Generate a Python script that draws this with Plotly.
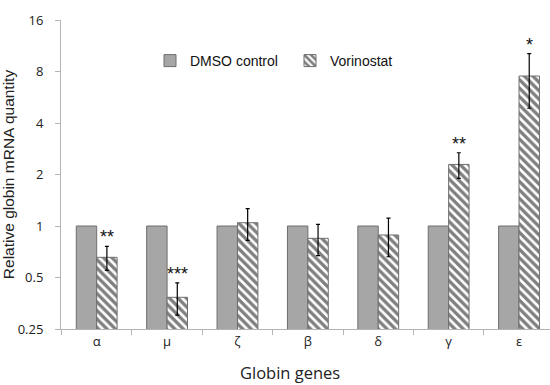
import math
import plotly.graph_objects as go

genes = ["α", "μ", "ζ", "β", "δ", "γ", "ε"]
dmso = [1, 1, 1, 1, 1, 1, 1]
vorinostat = [0.656, 0.383, 1.045, 0.847, 0.886, 2.29, 7.53]
vorinostat_err = [0.105, 0.082, 0.22, 0.175, 0.225, 0.39, 2.65]
signif = ["**", "***", "", "", "", "**", "*"]
ytick_vals = [0.25, 0.5, 1, 2, 4, 8, 16]
ytick_text = ["0.25", "0.5", "1", "2", "4", "8", "16"]

AXC = "#b3b3b3"
fig = go.Figure()
fig.add_trace(go.Bar(
    x=genes, y=dmso, name="DMSO control",
    marker=dict(color="#a6a6a6", line=dict(color="#6e6e6e", width=1)),
))
fig.add_trace(go.Bar(
    x=genes, y=vorinostat, name="Vorinostat",
    marker=dict(color="white", line=dict(color="#6e6e6e", width=1),
                pattern=dict(shape="\\", fgcolor="black", bgcolor="white", size=6, solidity=0.55)),
    error_y=dict(type="data", array=vorinostat_err, visible=True, color="black", thickness=1.2, width=2),
))

for i, (v, e, s) in enumerate(zip(vorinostat, vorinostat_err, signif)):
    if s:
        fig.add_annotation(x=i + 0.145, y=math.log10(v + e), xref="x", yref="y", text=s,
                           showarrow=False, yanchor="bottom", yshift=-3,
                           font=dict(family="Liberation Sans, Arial", size=18, color="#111"))

fig.add_annotation(x=(290 - 61) / 489, y=-(372 - 329) / 309, xref="paper", yref="paper",
                   text="Globin genes", showarrow=False, yanchor="middle", xanchor="center",
                   font=dict(family="Open Sans", size=16.5, color="#222"))

fig.update_layout(
    width=550, height=385,
    margin=dict(l=61, r=0, t=20, b=56),
    paper_bgcolor="white", plot_bgcolor="white",
    barmode="group", bargap=0.42, bargroupgap=0,
    showlegend=True,
    legend=dict(orientation="h", x=(150 - 61) / 489, y=(329 - 45) / 309, xanchor="left", yanchor="top",
                font=dict(family="Liberation Sans, Arial", size=14, color="#111"),
                bgcolor="rgba(0,0,0,0)", itemwidth=30, entrywidth=95),
    xaxis=dict(type="category", categoryorder="array", categoryarray=genes,
               range=[-0.507, 6.44], showline=True, linecolor=AXC, linewidth=1,
               ticks="outside", tickson="boundaries", ticklen=5, tickcolor=AXC,
               tickfont=dict(family="Open Sans", size=13, color="#222"), showgrid=False),
    yaxis=dict(type="log", range=[math.log10(0.25), math.log10(16)],
               tickvals=ytick_vals, ticktext=ytick_text, showline=True, linecolor=AXC, linewidth=1,
               ticks="outside", ticklen=5, tickcolor=AXC, showgrid=False, zeroline=False,
               ticklabelstandoff=9,
               tickfont=dict(family="Open Sans", size=13, color="#222"),
               title=dict(text="Relative globin mRNA quantity", standoff=0,
                          font=dict(family="Liberation Sans, Arial", size=15.5, color="#222"))),
)

fig.write_html("out.html")
